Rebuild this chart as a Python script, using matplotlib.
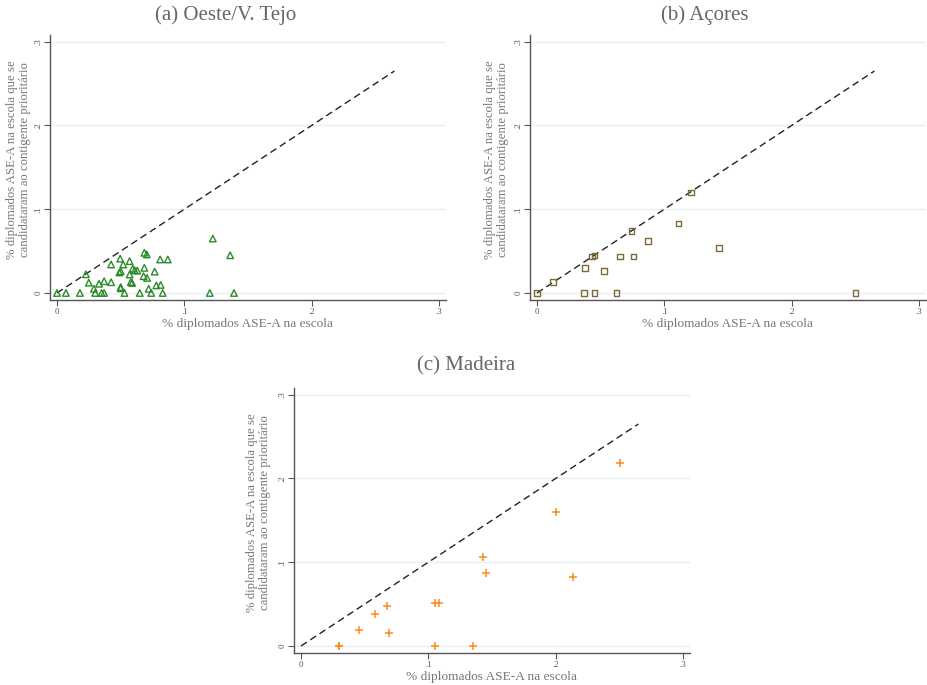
import matplotlib
matplotlib.use('Agg')
import matplotlib.pyplot as plt

# (a) Oeste/V. Tejo
oeste_x = [0, 0.007, 0.018, 0.030, 0.035, 0.037, 0.053, 0.065, 0.074, 0.083, 0.120, 0.139,
           0.0227, 0.025, 0.029, 0.033, 0.037, 0.0425, 0.0425, 0.0496, 0.052, 0.049, 0.050,
           0.050, 0.050, 0.057, 0.057, 0.058, 0.059, 0.0595, 0.061, 0.063, 0.0686, 0.0705,
           0.0686, 0.068, 0.0707, 0.0767, 0.072, 0.078, 0.0814, 0.081, 0.087, 0.1224, 0.136]
oeste_y = [0, 0, 0, 0, 0, 0, 0, 0, 0, 0, 0, 0,
           0.0223, 0.0123, 0.005, 0.011, 0.014, 0.0128, 0.034, 0.041, 0.034, 0.0245, 0.026,
           0.007, 0.0056, 0.038, 0.022, 0.013, 0.012, 0.029, 0.027, 0.0267, 0.048, 0.046,
           0.030, 0.020, 0.018, 0.0255, 0.005, 0.009, 0.0096, 0.040, 0.040, 0.065, 0.045]

# (b) Açores
acores_x = [0, 0.0124, 0.0369, 0.0453, 0.0624, 0.0377, 0.0432, 0.0453, 0.0524, 0.065,
            0.0757, 0.0742, 0.0873, 0.111, 0.121, 0.143, 0.25]
acores_y = [0, 0.0128, 0, 0, 0, 0.030, 0.0435, 0.0447, 0.0263, 0.0435,
            0.0435, 0.074, 0.062, 0.083, 0.120, 0.0534, 0]

# (c) Madeira
madeira_x = [0.030, 0.030, 0.0452, 0.0578, 0.0676, 0.0691, 0.1052, 0.1084, 0.1052, 0.135,
             0.143, 0.145, 0.2005, 0.2136, 0.2507]
madeira_y = [0, 0, 0.0192, 0.0384, 0.0472, 0.0152, 0.0512, 0.0512, 0, 0,
             0.1067, 0.0868, 0.160, 0.082, 0.218]

diag = [0, 0.265]
ticks = [0, 0.1, 0.2, 0.3]
tick_labels = ['0', '.1', '.2', '.3']

plt.rcParams['font.family'] = ['Liberation Serif', 'DejaVu Serif']

fig = plt.figure(figsize=(9.27, 6.85), dpi=100)
W, H = 927, 685


def make_ax(left, top, width=396, height=265):
    return fig.add_axes([left / W, 1 - (top + height) / H, width / W, height / H])


def style(ax, title, title_x, title_y, ylab_x):
    ax.set_xlim(-0.0055, 0.3055)
    ax.set_ylim(-0.0084, 0.308)
    ax.set_xticks(ticks)
    ax.set_xticklabels(tick_labels)
    ax.set_yticks(ticks)
    ax.set_yticklabels(tick_labels, rotation=90, va='center')
    ax.tick_params(labelsize=6.5, labelcolor='#555555', color='#555555', length=4, width=0.8, pad=1.5)
    for s in ['top', 'right']:
        ax.spines[s].set_visible(False)
    for s in ['left', 'bottom']:
        ax.spines[s].set_color('#555555')
        ax.spines[s].set_linewidth(1.0)
    ax.grid(axis='y', color='#e8f0f0', linewidth=1)
    ax.set_axisbelow(True)
    ax.plot(diag, diag, color='#222222', linestyle=(0, (5, 3)), linewidth=1, zorder=2)
    ax.set_xlabel('% diplomados ASE-A na escola', fontsize=9.6, color='#777777', va='center')
    ax.xaxis.set_label_coords(0.5, -0.09)
    ax.set_ylabel('% diplomados ASE-A na escola que se\ncandidataram ao contigente prioritário',
                  fontsize=9.2, color='#777777', linespacing=1.15, va='center')
    ax.yaxis.set_label_coords(ylab_x, 0.53)
    fig.text(title_x / W, 1 - title_y / H, title, fontsize=15, color='#666666',
             ha='center', va='center')


ax1 = make_ax(50, 35)
style(ax1, '(a) Oeste/V. Tejo', 226, 15, -0.08)
ax1.scatter(oeste_x, oeste_y, marker='^', facecolors='none', edgecolors='#2a8a2a',
            s=22, linewidths=1.0, zorder=3)

ax2 = make_ax(530, 35)
style(ax2, '(b) Açores', 705, 15, -0.085)
ax2.scatter(acores_x, acores_y, marker='s', facecolors='none', edgecolors='#7d6a3c',
            s=16, linewidths=1.0, zorder=3)

ax3 = make_ax(294, 388)
style(ax3, '(c) Madeira', 466, 366, -0.09)
ax3.scatter(madeira_x, madeira_y, marker='+', color='#ff8a1c', s=36, linewidths=1.1, zorder=3)

fig.savefig('out.png', dpi=100)
